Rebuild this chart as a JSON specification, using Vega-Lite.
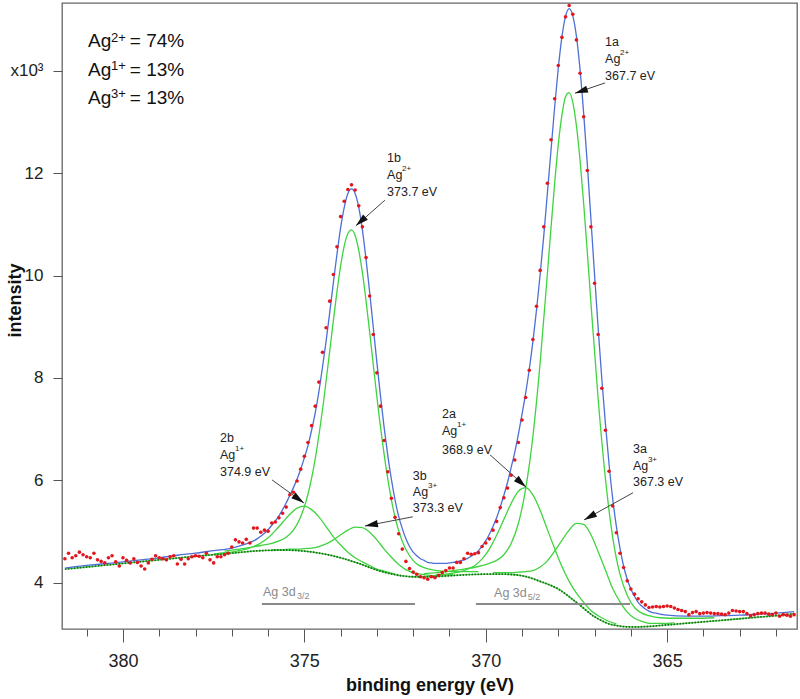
{
"$schema":"https://vega.github.io/schema/vega-lite/v6.json",
"width":735,"height":626,"autosize":"none",
"padding":{"left":62,"top":3,"right":3,"bottom":70},
"background":"white",
"config":{"font":"Liberation Sans","view":{"stroke":"#666666","strokeWidth":1.3},
"axis":{"domain":false,"grid":false,"tickColor":"#555555","labelColor":"#222222","titleColor":"#111111","labelFont":"Liberation Sans","titleFont":"Liberation Sans"}},
"datasets":{
"spec":[{"E":381.6,"I":4.47},{"E":381.5,"I":4.58},{"E":381.4,"I":4.49},{"E":381.3,"I":4.53},{"E":381.2,"I":4.6},{"E":381.1,"I":4.55},{"E":381.0,"I":4.51},{"E":380.9,"I":4.49},{"E":380.8,"I":4.58},{"E":380.7,"I":4.45},{"E":380.6,"I":4.42},{"E":380.5,"I":4.39},{"E":380.4,"I":4.49},{"E":380.3,"I":4.53},{"E":380.2,"I":4.41},{"E":380.1,"I":4.33},{"E":380.0,"I":4.49},{"E":379.9,"I":4.44},{"E":379.8,"I":4.39},{"E":379.7,"I":4.47},{"E":379.6,"I":4.4},{"E":379.5,"I":4.33},{"E":379.4,"I":4.27},{"E":379.3,"I":4.39},{"E":379.2,"I":4.46},{"E":379.1,"I":4.53},{"E":379.0,"I":4.49},{"E":378.9,"I":4.47},{"E":378.8,"I":4.45},{"E":378.7,"I":4.51},{"E":378.6,"I":4.53},{"E":378.5,"I":4.37},{"E":378.4,"I":4.46},{"E":378.3,"I":4.37},{"E":378.2,"I":4.47},{"E":378.1,"I":4.51},{"E":378.0,"I":4.53},{"E":377.9,"I":4.52},{"E":377.8,"I":4.49},{"E":377.7,"I":4.58},{"E":377.6,"I":4.45},{"E":377.5,"I":4.39},{"E":377.4,"I":4.51},{"E":377.3,"I":4.51},{"E":377.2,"I":4.55},{"E":377.1,"I":4.58},{"E":377.0,"I":4.7},{"E":376.9,"I":4.84},{"E":376.8,"I":4.8},{"E":376.7,"I":4.78},{"E":376.6,"I":4.85},{"E":376.5,"I":4.78},{"E":376.4,"I":5.07},{"E":376.3,"I":5.07},{"E":376.2,"I":4.99},{"E":376.1,"I":5.03},{"E":376.0,"I":5.01},{"E":375.9,"I":5.17},{"E":375.8,"I":5.19},{"E":375.7,"I":5.27},{"E":375.6,"I":5.36},{"E":375.5,"I":5.48},{"E":375.4,"I":5.72},{"E":375.3,"I":5.77},{"E":375.2,"I":5.99},{"E":375.1,"I":6.22},{"E":375.0,"I":6.47},{"E":374.9,"I":6.74},{"E":374.8,"I":7.07},{"E":374.7,"I":7.45},{"E":374.6,"I":7.92},{"E":374.5,"I":8.5},{"E":374.4,"I":8.98},{"E":374.3,"I":9.5},{"E":374.2,"I":10.02},{"E":374.1,"I":10.56},{"E":374.0,"I":11.15},{"E":373.9,"I":11.45},{"E":373.8,"I":11.68},{"E":373.7,"I":11.77},{"E":373.6,"I":11.67},{"E":373.5,"I":11.36},{"E":373.4,"I":10.95},{"E":373.3,"I":10.35},{"E":373.2,"I":9.6},{"E":373.1,"I":8.85},{"E":373.0,"I":8.1},{"E":372.9,"I":7.45},{"E":372.8,"I":6.78},{"E":372.7,"I":6.17},{"E":372.6,"I":5.65},{"E":372.5,"I":5.28},{"E":372.4,"I":4.96},{"E":372.3,"I":4.66},{"E":372.2,"I":4.42},{"E":372.1,"I":4.28},{"E":372.0,"I":4.21},{"E":371.9,"I":4.17},{"E":371.8,"I":4.12},{"E":371.7,"I":4.1},{"E":371.6,"I":4.07},{"E":371.5,"I":4.12},{"E":371.4,"I":4.1},{"E":371.3,"I":4.15},{"E":371.2,"I":4.2},{"E":371.1,"I":4.24},{"E":371.0,"I":4.29},{"E":370.9,"I":4.29},{"E":370.8,"I":4.4},{"E":370.7,"I":4.4},{"E":370.6,"I":4.47},{"E":370.5,"I":4.58},{"E":370.4,"I":4.56},{"E":370.3,"I":4.57},{"E":370.2,"I":4.59},{"E":370.1,"I":4.71},{"E":370.0,"I":4.78},{"E":369.9,"I":4.86},{"E":369.8,"I":5.03},{"E":369.7,"I":5.2},{"E":369.6,"I":5.47},{"E":369.5,"I":5.66},{"E":369.4,"I":5.85},{"E":369.3,"I":6.1},{"E":369.2,"I":6.4},{"E":369.1,"I":6.74},{"E":369.0,"I":7.18},{"E":368.9,"I":7.62},{"E":368.8,"I":8.15},{"E":368.7,"I":8.75},{"E":368.6,"I":9.4},{"E":368.5,"I":10.1},{"E":368.4,"I":10.95},{"E":368.3,"I":11.8},{"E":368.2,"I":12.65},{"E":368.1,"I":13.45},{"E":368.0,"I":14.1},{"E":367.9,"I":14.65},{"E":367.8,"I":15.05},{"E":367.7,"I":15.27},{"E":367.6,"I":15.1},{"E":367.5,"I":14.6},{"E":367.4,"I":13.95},{"E":367.3,"I":13.1},{"E":367.2,"I":12.05},{"E":367.1,"I":10.95},{"E":367.0,"I":9.85},{"E":366.9,"I":8.85},{"E":366.8,"I":7.8},{"E":366.7,"I":6.98},{"E":366.6,"I":6.18},{"E":366.5,"I":5.5},{"E":366.4,"I":4.98},{"E":366.3,"I":4.58},{"E":366.2,"I":4.3},{"E":366.1,"I":4.04},{"E":366.0,"I":3.88},{"E":365.9,"I":3.78},{"E":365.8,"I":3.69},{"E":365.7,"I":3.63},{"E":365.6,"I":3.57},{"E":365.5,"I":3.52},{"E":365.4,"I":3.53},{"E":365.3,"I":3.54},{"E":365.2,"I":3.53},{"E":365.1,"I":3.54},{"E":365.0,"I":3.55},{"E":364.9,"I":3.54},{"E":364.8,"I":3.51},{"E":364.7,"I":3.48},{"E":364.6,"I":3.46},{"E":364.5,"I":3.44},{"E":364.4,"I":3.38},{"E":364.3,"I":3.42},{"E":364.2,"I":3.44},{"E":364.1,"I":3.4},{"E":364.0,"I":3.41},{"E":363.9,"I":3.42},{"E":363.8,"I":3.41},{"E":363.7,"I":3.4},{"E":363.6,"I":3.4},{"E":363.5,"I":3.39},{"E":363.4,"I":3.38},{"E":363.3,"I":3.41},{"E":363.2,"I":3.46},{"E":363.1,"I":3.45},{"E":363.0,"I":3.44},{"E":362.9,"I":3.44},{"E":362.8,"I":3.4},{"E":362.7,"I":3.36},{"E":362.6,"I":3.38},{"E":362.5,"I":3.4},{"E":362.4,"I":3.41},{"E":362.3,"I":3.41},{"E":362.2,"I":3.39},{"E":362.1,"I":3.38},{"E":362.0,"I":3.41},{"E":361.9,"I":3.35},{"E":361.8,"I":3.38},{"E":361.7,"I":3.37},{"E":361.6,"I":3.35},{"E":361.5,"I":3.38}],
"fit":[{"E":381.6,"I":4.29},{"E":381.0,"I":4.34},{"E":380.5,"I":4.375},{"E":380.0,"I":4.41},{"E":379.5,"I":4.45},{"E":379.0,"I":4.49},{"E":378.5,"I":4.54},{"E":378.0,"I":4.58},{"E":377.5,"I":4.63},{"E":377.0,"I":4.68},{"E":376.9,"I":4.7},{"E":376.8,"I":4.72},{"E":376.7,"I":4.74},{"E":376.6,"I":4.76},{"E":376.5,"I":4.79},{"E":376.4,"I":4.82},{"E":376.3,"I":4.86},{"E":376.2,"I":4.91},{"E":376.1,"I":4.97},{"E":376.0,"I":5.04},{"E":375.9,"I":5.12},{"E":375.8,"I":5.21},{"E":375.7,"I":5.31},{"E":375.6,"I":5.43},{"E":375.5,"I":5.56},{"E":375.4,"I":5.71},{"E":375.3,"I":5.86},{"E":375.2,"I":6.03},{"E":375.1,"I":6.22},{"E":375.0,"I":6.44},{"E":374.9,"I":6.68},{"E":374.8,"I":6.98},{"E":374.7,"I":7.32},{"E":374.6,"I":7.73},{"E":374.5,"I":8.21},{"E":374.4,"I":8.72},{"E":374.3,"I":9.28},{"E":374.2,"I":9.86},{"E":374.1,"I":10.42},{"E":374.0,"I":10.93},{"E":373.9,"I":11.33},{"E":373.8,"I":11.6},{"E":373.7,"I":11.69},{"E":373.6,"I":11.6},{"E":373.5,"I":11.33},{"E":373.4,"I":10.89},{"E":373.3,"I":10.32},{"E":373.2,"I":9.68},{"E":373.1,"I":8.99},{"E":373.0,"I":8.3},{"E":372.9,"I":7.64},{"E":372.8,"I":7.03},{"E":372.7,"I":6.49},{"E":372.6,"I":6.02},{"E":372.5,"I":5.62},{"E":372.4,"I":5.3},{"E":372.3,"I":5.06},{"E":372.2,"I":4.86},{"E":372.1,"I":4.71},{"E":372.0,"I":4.6},{"E":371.9,"I":4.53},{"E":371.8,"I":4.47},{"E":371.7,"I":4.44},{"E":371.6,"I":4.4},{"E":371.5,"I":4.39},{"E":371.4,"I":4.38},{"E":371.3,"I":4.38},{"E":371.2,"I":4.38},{"E":371.1,"I":4.38},{"E":371.0,"I":4.39},{"E":370.9,"I":4.4},{"E":370.8,"I":4.41},{"E":370.7,"I":4.43},{"E":370.6,"I":4.45},{"E":370.5,"I":4.48},{"E":370.4,"I":4.52},{"E":370.3,"I":4.57},{"E":370.2,"I":4.63},{"E":370.1,"I":4.72},{"E":370.0,"I":4.82},{"E":369.9,"I":4.95},{"E":369.8,"I":5.1},{"E":369.7,"I":5.27},{"E":369.6,"I":5.48},{"E":369.5,"I":5.71},{"E":369.4,"I":5.96},{"E":369.3,"I":6.25},{"E":369.2,"I":6.55},{"E":369.1,"I":6.9},{"E":369.0,"I":7.29},{"E":368.9,"I":7.7},{"E":368.8,"I":8.17},{"E":368.7,"I":8.71},{"E":368.6,"I":9.33},{"E":368.5,"I":10.02},{"E":368.4,"I":10.78},{"E":368.3,"I":11.61},{"E":368.2,"I":12.45},{"E":368.1,"I":13.29},{"E":368.0,"I":14.05},{"E":367.9,"I":14.66},{"E":367.8,"I":15.06},{"E":367.7,"I":15.21},{"E":367.6,"I":15.07},{"E":367.5,"I":14.67},{"E":367.4,"I":14.02},{"E":367.3,"I":13.16},{"E":367.2,"I":12.17},{"E":367.1,"I":11.1},{"E":367.0,"I":10.01},{"E":366.9,"I":8.96},{"E":366.8,"I":7.98},{"E":366.7,"I":7.1},{"E":366.6,"I":6.31},{"E":366.5,"I":5.64},{"E":366.4,"I":5.11},{"E":366.3,"I":4.68},{"E":366.2,"I":4.33},{"E":366.1,"I":4.07},{"E":366.0,"I":3.88},{"E":365.9,"I":3.74},{"E":365.8,"I":3.62},{"E":365.7,"I":3.55},{"E":365.6,"I":3.49},{"E":365.5,"I":3.45},{"E":365.4,"I":3.42},{"E":365.3,"I":3.41},{"E":365.2,"I":3.39},{"E":365.1,"I":3.38},{"E":365.0,"I":3.37},{"E":364.5,"I":3.35},{"E":364.0,"I":3.35},{"E":363.5,"I":3.36},{"E":363.0,"I":3.37},{"E":362.5,"I":3.39},{"E":362.0,"I":3.41},{"E":361.5,"I":3.44}],
"bg":[{"E":381.6,"I":4.27},{"E":381.0,"I":4.31},{"E":380.5,"I":4.345},{"E":380.0,"I":4.38},{"E":379.5,"I":4.415},{"E":379.0,"I":4.45},{"E":378.5,"I":4.485},{"E":378.0,"I":4.52},{"E":377.5,"I":4.55},{"E":377.0,"I":4.58},{"E":376.5,"I":4.615},{"E":376.0,"I":4.635},{"E":375.5,"I":4.64},{"E":375.0,"I":4.62},{"E":374.5,"I":4.57},{"E":374.0,"I":4.49},{"E":373.5,"I":4.38},{"E":373.0,"I":4.25},{"E":372.5,"I":4.16},{"E":372.0,"I":4.12},{"E":371.5,"I":4.12},{"E":371.0,"I":4.14},{"E":370.5,"I":4.16},{"E":370.0,"I":4.17},{"E":369.5,"I":4.17},{"E":369.0,"I":4.14},{"E":368.5,"I":4.03},{"E":368.0,"I":3.88},{"E":367.5,"I":3.62},{"E":367.0,"I":3.34},{"E":366.5,"I":3.18},{"E":366.0,"I":3.14},{"E":365.5,"I":3.15},{"E":365.0,"I":3.18},{"E":364.5,"I":3.21},{"E":364.0,"I":3.24},{"E":363.5,"I":3.27},{"E":363.0,"I":3.3},{"E":362.5,"I":3.33},{"E":362.0,"I":3.36},{"E":361.5,"I":3.4}],
"comp":[
{"p":"1a","E":371.7,"I":4.18},{"p":"1a","E":371.2,"I":4.21},{"p":"1a","E":370.7,"I":4.26},{"p":"1a","E":370.2,"I":4.32},{"p":"1a","E":369.9,"I":4.38},{"p":"1a","E":369.7,"I":4.44},{"p":"1a","E":369.5,"I":4.55},{"p":"1a","E":369.3,"I":4.77},{"p":"1a","E":369.1,"I":5.16},{"p":"1a","E":368.9,"I":5.83},{"p":"1a","E":368.7,"I":6.86},{"p":"1a","E":368.5,"I":8.3},{"p":"1a","E":368.3,"I":10.04},{"p":"1a","E":368.2,"I":10.94},{"p":"1a","E":368.1,"I":11.8},{"p":"1a","E":368.0,"I":12.56},{"p":"1a","E":367.9,"I":13.13},{"p":"1a","E":367.8,"I":13.49},{"p":"1a","E":367.7,"I":13.57},{"p":"1a","E":367.6,"I":13.38},{"p":"1a","E":367.5,"I":12.92},{"p":"1a","E":367.4,"I":12.25},{"p":"1a","E":367.3,"I":11.4},{"p":"1a","E":367.2,"I":10.45},{"p":"1a","E":367.1,"I":9.47},{"p":"1a","E":366.9,"I":7.58},{"p":"1a","E":366.7,"I":6.03},{"p":"1a","E":366.5,"I":4.89},{"p":"1a","E":366.3,"I":4.17},{"p":"1a","E":366.1,"I":3.76},{"p":"1a","E":365.9,"I":3.52},{"p":"1a","E":365.7,"I":3.41},{"p":"1a","E":365.5,"I":3.36},{"p":"1a","E":365.2,"I":3.32},{"p":"1a","E":364.7,"I":3.31},{"p":"1a","E":364.2,"I":3.31},{"p":"1a","E":363.7,"I":3.32},
{"p":"2a","E":371.4,"I":4.15},{"p":"2a","E":371.1,"I":4.17},{"p":"2a","E":370.9,"I":4.19},{"p":"2a","E":370.7,"I":4.22},{"p":"2a","E":370.5,"I":4.27},{"p":"2a","E":370.3,"I":4.34},{"p":"2a","E":370.1,"I":4.47},{"p":"2a","E":369.9,"I":4.66},{"p":"2a","E":369.7,"I":4.93},{"p":"2a","E":369.5,"I":5.24},{"p":"2a","E":369.3,"I":5.55},{"p":"2a","E":369.1,"I":5.79},{"p":"2a","E":368.9,"I":5.86},{"p":"2a","E":368.7,"I":5.72},{"p":"2a","E":368.5,"I":5.42},{"p":"2a","E":368.3,"I":5.04},{"p":"2a","E":368.1,"I":4.67},{"p":"2a","E":367.9,"I":4.32},{"p":"2a","E":367.7,"I":4.03},{"p":"2a","E":367.5,"I":3.8},{"p":"2a","E":367.3,"I":3.62},{"p":"2a","E":367.1,"I":3.46},{"p":"2a","E":366.9,"I":3.36},{"p":"2a","E":366.7,"I":3.28},{"p":"2a","E":366.4,"I":3.2},
{"p":"3a","E":369.8,"I":4.2},{"p":"3a","E":369.5,"I":4.2},{"p":"3a","E":369.3,"I":4.2},{"p":"3a","E":369.1,"I":4.21},{"p":"3a","E":368.9,"I":4.22},{"p":"3a","E":368.7,"I":4.24},{"p":"3a","E":368.5,"I":4.31},{"p":"3a","E":368.3,"I":4.43},{"p":"3a","E":368.1,"I":4.62},{"p":"3a","E":367.9,"I":4.83},{"p":"3a","E":367.7,"I":5.03},{"p":"3a","E":367.5,"I":5.16},{"p":"3a","E":367.3,"I":5.14},{"p":"3a","E":367.1,"I":4.94},{"p":"3a","E":366.9,"I":4.61},{"p":"3a","E":366.7,"I":4.25},{"p":"3a","E":366.5,"I":3.89},{"p":"3a","E":366.3,"I":3.63},{"p":"3a","E":366.1,"I":3.43},{"p":"3a","E":365.9,"I":3.31},{"p":"3a","E":365.7,"I":3.25},{"p":"3a","E":365.5,"I":3.21},{"p":"3a","E":365.3,"I":3.21},{"p":"3a","E":365.1,"I":3.21},{"p":"3a","E":364.8,"I":3.22},
{"p":"1b","E":377.2,"I":4.62},{"p":"1b","E":376.7,"I":4.67},{"p":"1b","E":376.2,"I":4.73},{"p":"1b","E":375.9,"I":4.77},{"p":"1b","E":375.7,"I":4.82},{"p":"1b","E":375.5,"I":4.89},{"p":"1b","E":375.3,"I":5.03},{"p":"1b","E":375.1,"I":5.29},{"p":"1b","E":374.9,"I":5.73},{"p":"1b","E":374.7,"I":6.42},{"p":"1b","E":374.5,"I":7.38},{"p":"1b","E":374.3,"I":8.53},{"p":"1b","E":374.2,"I":9.12},{"p":"1b","E":374.1,"I":9.69},{"p":"1b","E":374.0,"I":10.19},{"p":"1b","E":373.9,"I":10.58},{"p":"1b","E":373.8,"I":10.82},{"p":"1b","E":373.7,"I":10.89},{"p":"1b","E":373.6,"I":10.78},{"p":"1b","E":373.5,"I":10.49},{"p":"1b","E":373.4,"I":10.06},{"p":"1b","E":373.3,"I":9.51},{"p":"1b","E":373.2,"I":8.9},{"p":"1b","E":373.1,"I":8.26},{"p":"1b","E":372.9,"I":7.04},{"p":"1b","E":372.7,"I":6.03},{"p":"1b","E":372.5,"I":5.28},{"p":"1b","E":372.3,"I":4.81},{"p":"1b","E":372.1,"I":4.53},{"p":"1b","E":371.9,"I":4.37},{"p":"1b","E":371.7,"I":4.3},{"p":"1b","E":371.5,"I":4.26},{"p":"1b","E":371.2,"I":4.23},{"p":"1b","E":370.7,"I":4.22},{"p":"1b","E":370.2,"I":4.22},
{"p":"2b","E":377.5,"I":4.56},{"p":"2b","E":377.2,"I":4.59},{"p":"2b","E":377.0,"I":4.6},{"p":"2b","E":376.8,"I":4.63},{"p":"2b","E":376.6,"I":4.66},{"p":"2b","E":376.4,"I":4.71},{"p":"2b","E":376.2,"I":4.78},{"p":"2b","E":376.0,"I":4.88},{"p":"2b","E":375.8,"I":5.02},{"p":"2b","E":375.6,"I":5.18},{"p":"2b","E":375.4,"I":5.34},{"p":"2b","E":375.2,"I":5.46},{"p":"2b","E":375.0,"I":5.5},{"p":"2b","E":374.8,"I":5.43},{"p":"2b","E":374.6,"I":5.29},{"p":"2b","E":374.4,"I":5.1},{"p":"2b","E":374.2,"I":4.9},{"p":"2b","E":374.0,"I":4.74},{"p":"2b","E":373.8,"I":4.6},{"p":"2b","E":373.6,"I":4.49},{"p":"2b","E":373.4,"I":4.41},{"p":"2b","E":373.2,"I":4.34},{"p":"2b","E":373.0,"I":4.27},{"p":"2b","E":372.8,"I":4.23},{"p":"2b","E":372.5,"I":4.17},
{"p":"3b","E":375.9,"I":4.65},{"p":"3b","E":375.6,"I":4.65},{"p":"3b","E":375.4,"I":4.66},{"p":"3b","E":375.2,"I":4.66},{"p":"3b","E":375.0,"I":4.67},{"p":"3b","E":374.8,"I":4.68},{"p":"3b","E":374.6,"I":4.71},{"p":"3b","E":374.4,"I":4.76},{"p":"3b","E":374.2,"I":4.84},{"p":"3b","E":374.0,"I":4.94},{"p":"3b","E":373.8,"I":5.03},{"p":"3b","E":373.6,"I":5.09},{"p":"3b","E":373.4,"I":5.08},{"p":"3b","E":373.2,"I":4.99},{"p":"3b","E":373.0,"I":4.84},{"p":"3b","E":372.8,"I":4.66},{"p":"3b","E":372.6,"I":4.5},{"p":"3b","E":372.4,"I":4.36},{"p":"3b","E":372.2,"I":4.26},{"p":"3b","E":372.0,"I":4.2},{"p":"3b","E":371.8,"I":4.17},{"p":"3b","E":371.6,"I":4.15},{"p":"3b","E":371.4,"I":4.14},{"p":"3b","E":371.2,"I":4.15},{"p":"3b","E":370.9,"I":4.16}],
"big":[{"E":380.96,"I":14.46,"t":"Ag"},{"E":380.96,"I":13.895,"t":"Ag"},{"E":380.96,"I":13.35,"t":"Ag"},{"E":379.81,"I":14.46,"t":"= 74%"},{"E":379.81,"I":13.895,"t":"= 13%"},{"E":379.81,"I":13.35,"t":"= 13%"}],
"bigsup":[{"E":380.33,"I":14.56,"t":"2+"},{"E":380.33,"I":14.01,"t":"1+"},{"E":380.33,"I":13.47,"t":"3+"}],
"lab":[{"E":366.71,"I":14.56,"t":"1a"},{"E":366.71,"I":14.227,"t":"Ag"},{"E":366.71,"I":13.9,"t":"367.7 eV"},
{"E":372.72,"I":12.29,"t":"1b"},{"E":372.72,"I":11.963,"t":"Ag"},{"E":372.72,"I":11.63,"t":"373.7 eV"},
{"E":371.205,"I":7.3,"t":"2a"},{"E":371.205,"I":6.966,"t":"Ag"},{"E":371.205,"I":6.595,"t":"368.9 eV"},
{"E":365.94,"I":6.614,"t":"3a"},{"E":365.94,"I":6.282,"t":"Ag"},{"E":365.94,"I":5.97,"t":"367.3 eV"},
{"E":377.325,"I":6.829,"t":"2b"},{"E":377.325,"I":6.497,"t":"Ag"},{"E":377.325,"I":6.165,"t":"374.9 eV"},
{"E":372.01,"I":6.087,"t":"3b"},{"E":372.01,"I":5.775,"t":"Ag"},{"E":372.01,"I":5.463,"t":"373.3 eV"}],
"labsup":[{"E":366.3,"I":14.34,"t":"2+"},{"E":372.31,"I":12.08,"t":"2+"},{"E":370.79,"I":7.08,"t":"1+"},{"E":365.53,"I":6.4,"t":"3+"},{"E":376.91,"I":6.61,"t":"1+"},{"E":371.59,"I":5.89,"t":"3+"}],
"gray":[{"E":376.14,"I":3.823,"t":"Ag 3d"},{"E":369.77,"I":3.803,"t":"Ag 3d"}],
"graysub":[{"E":375.2,"I":3.745,"t":"3/2"},{"E":368.84,"I":3.725,"t":"5/2"}],
"bars":[{"E":376.17,"E2":371.95,"I":3.589},{"E":370.27,"E2":366.02,"I":3.589}],
"arrows":[{"E":366.71,"I":13.76,"E2":367.54,"I2":13.56},{"E":372.78,"I":11.47,"E2":373.58,"I2":10.97},{"E":369.88,"I":6.5,"E2":368.89,"I2":5.87},{"E":365.94,"I":5.76,"E2":367.29,"I2":5.23},{"E":375.89,"I":6.01,"E2":375.01,"I2":5.56},{"E":372.01,"I":5.29,"E2":373.33,"I2":5.11}]
},
"encoding":{
"x":{"field":"E","type":"quantitative","scale":{"domain":[361.42,381.68],"reverse":true,"nice":false,"zero":false},
"axis":{"title":"binding energy (eV)","values":[362,363,364,365,366,367,368,369,370,371,372,373,374,375,376,377,378,379,380,381],"labelExpr":"datum.value % 5 === 0 ? datum.label : ''","tickSize":{"condition":{"test":"datum.value % 5 === 0","value":13},"value":7},"labelFontSize":18,"labelPadding":10,"labelOverlap":false,"labelFlush":false,"titleFontSize":18,"titleFontWeight":"bold","titlePadding":6}},
"y":{"field":"I","type":"quantitative","scale":{"domain":[3.1,15.32],"nice":false,"zero":false},
"axis":{"title":"intensity","values":[4,6,8,10,12,14],"labelExpr":"datum.value === 14 ? 'x10³' : datum.label","tickSize":9,"labelPadding":10,"labelFontSize":17,"labelOverlap":false,"titleFontSize":18,"titleFontWeight":"bold","titleX":-47,"titleY":297,"titleBaseline":"middle","titleAngle":-90,"titleAlign":"center"}}
},
"layer":[
{"data":{"name":"bg"},"mark":{"type":"line","interpolate":"monotone","color":"#3fd43f","strokeWidth":1.3},"encoding":{}},
{"data":{"name":"comp"},"mark":{"type":"line","interpolate":"monotone","color":"#3fd43f","strokeWidth":1.3},"encoding":{"detail":{"field":"p"}}},
{"data":{"name":"bg"},"mark":{"type":"line","interpolate":"monotone","color":"#1f6b1f","strokeWidth":1.8,"strokeDash":[1.5,1.5]},"encoding":{}},
{"data":{"name":"bars"},"mark":{"type":"rule","color":"#8a8a8a","strokeWidth":2},"encoding":{"x2":{"field":"E2"}}},
{"data":{"name":"fit"},"mark":{"type":"line","interpolate":"monotone","color":"#4d6fd6","strokeWidth":1.3},"encoding":{}},
{"data":{"name":"spec"},"mark":{"type":"point","shape":"circle","filled":true,"size":13,"color":"#e2161c","opacity":1},"encoding":{}},
{"data":{"name":"arrows"},"mark":{"type":"rule","color":"#444444","strokeWidth":1},"encoding":{"x2":{"field":"E2"},"y2":{"field":"I2"}}},
{"data":{"values":[{"E":367.54,"I":13.56}]},"mark":{"type":"point","shape":"M0,0L0.5,1.8L-0.5,1.8Z","size":208,"filled":true,"color":"#111111","opacity":1,"angle":251.6},"encoding":{}},
{"data":{"values":[{"E":373.58,"I":10.97}]},"mark":{"type":"point","shape":"M0,0L0.5,1.8L-0.5,1.8Z","size":208,"filled":true,"color":"#111111","opacity":1,"angle":228},"encoding":{}},
{"data":{"values":[{"E":368.89,"I":5.87}]},"mark":{"type":"point","shape":"M0,0L0.5,1.8L-0.5,1.8Z","size":208,"filled":true,"color":"#111111","opacity":1,"angle":131.6},"encoding":{}},
{"data":{"values":[{"E":367.29,"I":5.23}]},"mark":{"type":"point","shape":"M0,0L0.5,1.8L-0.5,1.8Z","size":208,"filled":true,"color":"#111111","opacity":1,"angle":241},"encoding":{}},
{"data":{"values":[{"E":375.01,"I":5.56}]},"mark":{"type":"point","shape":"M0,0L0.5,1.8L-0.5,1.8Z","size":208,"filled":true,"color":"#111111","opacity":1,"angle":125.7},"encoding":{}},
{"data":{"values":[{"E":373.33,"I":5.11}]},"mark":{"type":"point","shape":"M0,0L0.5,1.8L-0.5,1.8Z","size":208,"filled":true,"color":"#111111","opacity":1,"angle":259.4},"encoding":{}},
{"data":{"name":"big"},"mark":{"type":"text","align":"left","baseline":"alphabetic","fontSize":19,"color":"#111111"},"encoding":{"text":{"field":"t"}}},
{"data":{"name":"bigsup"},"mark":{"type":"text","align":"left","baseline":"alphabetic","fontSize":13,"color":"#111111"},"encoding":{"text":{"field":"t"}}},
{"data":{"name":"lab"},"mark":{"type":"text","align":"left","baseline":"middle","fontSize":12.5,"color":"#222222"},"encoding":{"text":{"field":"t"}}},
{"data":{"name":"labsup"},"mark":{"type":"text","align":"left","baseline":"middle","fontSize":8,"color":"#222222"},"encoding":{"text":{"field":"t"}}},
{"data":{"name":"gray"},"mark":{"type":"text","align":"left","baseline":"middle","fontSize":12.5,"color":"#8a8a8a"},"encoding":{"text":{"field":"t"}}},
{"data":{"name":"graysub"},"mark":{"type":"text","align":"left","baseline":"middle","fontSize":9,"color":"#8a8a8a"},"encoding":{"text":{"field":"t"}}}
]
}
